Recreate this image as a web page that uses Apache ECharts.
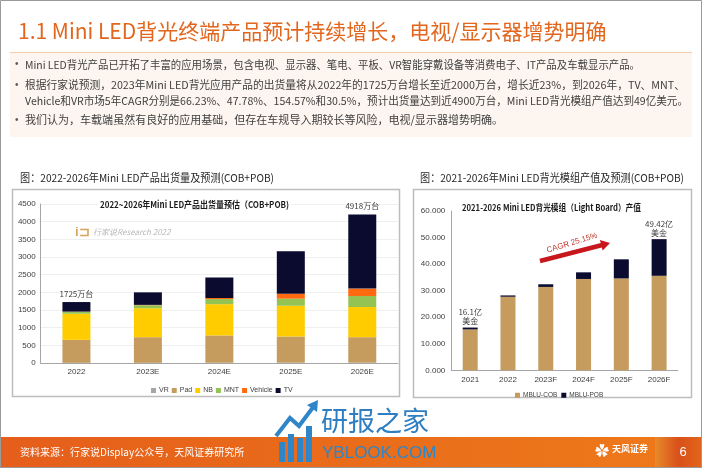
<!DOCTYPE html>
<html><head><meta charset="utf-8">
<script src="https://cdn.jsdelivr.net/npm/echarts@6/dist/echarts.min.js"></script>
<style>html,body{margin:0;padding:0;background:#fff}#c{width:702px;height:468px}</style>
</head><body><div id="c"></div>
<script>
// ---- Left chart data: Mini LED shipments (万台) ----
const shipCats = ['2022', '2023E', '2024E', '2025E', '2026E'];
const shipVR = [5, 5, 8, 10, 12];
const shipPad = [650, 725, 772, 740, 718];
const shipNB = [740, 820, 885, 870, 855];
const shipMNT = [55, 85, 145, 200, 310];
const shipVehicle = [5, 10, 30, 140, 210];
const shipTV = [270, 355, 580, 1200, 2100];
const shipTopLabels = ['1725万台', '', '', '', '4918万台'];
const shipYMin = 0, shipYMax = 4500, shipYStep = 500;

// ---- Right chart data: backlight module value (亿美金) ----
const valCats = ['2021', '2022', '2023F', '2024F', '2025F', '2026F'];
const valCOB = [15.4, 27.7, 31.4, 34.4, 34.6, 35.6];
const valPOB = [0.7, 0.5, 1.0, 2.5, 7.2, 13.8];
const valTopLabels = ['16.1亿\n美金', '', '', '', '', '49.42亿\n美金'];
const valYMin = 0, valYMax = 60, valYStep = 10;

const shipNames = ['VR', 'Pad', 'NB', 'MNT', 'Vehicle', 'TV'];
const shipColors = ['#A6A6A6', '#C59B5E', '#FFCC00', '#92C353', '#FF6A10', '#0B0B30'];
const shipData = [shipVR, shipPad, shipNB, shipMNT, shipVehicle, shipTV];

const CJK = '"Noto Sans CJK SC", "Liberation Sans", sans-serif';
const ARIAL = '"Liberation Sans", "Noto Sans CJK SC", sans-serif';

const mctx = document.createElement('canvas').getContext('2d');
function fitScale(text, font, target) {
  mctx.font = font;
  const w = mctx.measureText(text).width;
  return w > 0 ? target / w : 1;
}
function fitText(x, y, text, font, target, color, align, extra) {
  const sx = fitScale(text, font, target);
  return { type: 'text', x: x, y: y, scaleX: sx, style: Object.assign({ text: text, fill: color, font: font, align: align || 'left', verticalAlign: 'middle' }, extra || {}) };
}

function arrowPts(x1, y1, x2, y2, w, hw, hl) {
  const dx = x2 - x1, dy = y2 - y1, L = Math.hypot(dx, dy), ux = dx / L, uy = dy / L, nx = -uy, ny = ux;
  const bx = x2 - ux * hl, by = y2 - uy * hl;
  return [[x1 + nx * w / 2, y1 + ny * w / 2], [bx + nx * w / 2, by + ny * w / 2], [bx + nx * hw / 2, by + ny * hw / 2], [x2, y2],
    [bx - nx * hw / 2, by - ny * hw / 2], [bx - nx * w / 2, by - ny * w / 2], [x1 - nx * w / 2, y1 - ny * w / 2]];
}

const chart = echarts.init(document.getElementById('c'), null, { renderer: 'canvas' });

const series = [];
shipNames.forEach((n, i) => {
  const s = {
    name: n, type: 'bar', stack: 'ship', xAxisIndex: 0, yAxisIndex: 0,
    data: shipData[i], barWidth: 28, itemStyle: { color: shipColors[i] }
  };
  if (i === shipNames.length - 1) {
    s.label = {
      show: true, position: 'top', distance: 4, fontSize: 8, color: '#404040', fontFamily: CJK,
      formatter: p => shipTopLabels[p.dataIndex]
    };
  }
  series.push(s);
});
series.push({
  name: 'MBLU-COB', type: 'bar', stack: 'val', xAxisIndex: 1, yAxisIndex: 1,
  data: valCOB, barWidth: 15, itemStyle: { color: '#C59B5E' }
});
series.push({
  name: 'MBLU-POB', type: 'bar', stack: 'val', xAxisIndex: 1, yAxisIndex: 1,
  data: valPOB, barWidth: 15, itemStyle: { color: '#0B0B30' },
  label: {
    show: true, position: 'top', distance: 2, fontSize: 8, lineHeight: 9, color: '#404040', fontFamily: CJK,
    formatter: p => valTopLabels[p.dataIndex]
  }
});

const bulletLines = [
  { y: 64.5, bullet: true, w: 615, t: 'Mini LED背光产品已开拓了丰富的应用场景，包含电视、显示器、笔电、平板、VR智能穿戴设备等消费电子、IT产品及车载显示产品。' },
  { y: 85, bullet: true, w: 660, t: '根据行家说预测，2023年Mini LED背光应用产品的出货量将从2022年的1725万台增长至近2000万台，增长近23%，到2026年，TV、MNT、' },
  { y: 101, bullet: false, w: 663, t: 'Vehicle和VR市场5年CAGR分别是66.23%、47.78%、154.57%和30.5%，预计出货量达到近4900万台，Mini LED背光模组产值达到49亿美元。' },
  { y: 120, bullet: true, w: 478, t: '我们认为，车载端虽然有良好的应用基础，但存在车规导入期较长等风险，电视/显示器增势明确。' }
];

const graphics = [
  // slide border
  { type: 'rect', shape: { x: 0.5, y: 0.5, width: 701, height: 467 }, style: { fill: 'none', stroke: '#9A9A9A', lineWidth: 1 }, z: 100 },
  // title
  { type: 'text', x: 18, y: 31, style: { text: '1.1 Mini LED背光终端产品预计持续增长，电视/显示器增势明确', fill: '#E2661D', font: '21px ' + CJK, verticalAlign: 'middle' } },
  // bullet box
  { type: 'rect', shape: { x: 10, y: 52, width: 682, height: 85 }, style: { fill: '#FDF6F0' } },
  { type: 'line', shape: { x1: 10, y1: 52.5, x2: 692, y2: 52.5 }, style: { stroke: '#F2CDB0', lineWidth: 1 } },
  // subtitles
  fitText(20, 178, '图：2022-2026年Mini LED产品出货量及预测(COB+POB)', '11px ' + CJK, 254, '#262626'),
  fitText(420, 178, '图：2021-2026年Mini LED背光模组产值及预测(COB+POB)', '11px ' + CJK, 264, '#262626'),
  // chart frames
  { type: 'rect', shape: { x: 12.5, y: 189.5, width: 387, height: 207 }, style: { fill: 'none', stroke: '#BDBDBD', lineWidth: 1.5 } },
  { type: 'rect', shape: { x: 413.5, y: 189.5, width: 278, height: 208 }, style: { fill: 'none', stroke: '#BDBDBD', lineWidth: 1.5 } },
  // inner chart titles
  Object.assign(fitText(194.5, 205, '2022~2026年Mini LED产品出货量预估（COB+POB)', 'bold 9px ' + CJK, 189, '#1A1A1A', 'center',
    { backgroundColor: '#FFFFFF', padding: [1, 2] }), { z: 10 }),
  fitText(551.5, 208, '2021-2026 Mini LED背光模组（Light Board）产值', 'bold 9px ' + CJK, 179, '#1A1A1A', 'center'),
  // research watermark in left chart
  { type: 'text', x: 75, y: 232, style: { text: 'i⊐', fill: '#D8A55E', font: 'bold 13px ' + ARIAL, verticalAlign: 'middle' } },
  { type: 'text', x: 93, y: 232, style: { text: '行家说Research 2022', fill: '#B8B8B8', font: 'italic 8px ' + CJK, verticalAlign: 'middle' } },
  // CAGR arrow
  { type: 'polygon', shape: { points: arrowPts(540, 261, 610, 243, 4.5, 11, 9) }, style: { fill: '#C8161D' }, z: 10 },
  { type: 'text', x: 572, y: 243, rotation: 17 * Math.PI / 180, style: { text: 'CAGR 25.15%', fill: '#C0392B', font: '8px ' + ARIAL, align: 'center', verticalAlign: 'middle' }, z: 10 },
  // footer
  { type: 'rect', shape: { x: 0, y: 437, width: 702, height: 31 }, style: { fill: new echarts.graphic.LinearGradient(0, 0, 1, 0, [{ offset: 0, color: '#E55E1B' }, { offset: 1, color: '#EE7A1A' }]) } },
  { type: 'rect', shape: { x: 655, y: 437, width: 47, height: 31 }, style: { fill: new echarts.graphic.LinearGradient(0, 0, 1, 0, [{ offset: 0, color: '#E88A2A' }, { offset: 0.5, color: '#D9501A' }, { offset: 1, color: '#E2661C' }]) } },
  { type: 'text', x: 20, y: 452, style: { text: '资料来源：行家说Display公众号，天风证券研究所', fill: '#FFFFFF', font: '10px ' + CJK, verticalAlign: 'middle' } },
  { type: 'text', x: 595, y: 451, style: { text: '✿', fill: '#FFFFFF', font: '14px ' + CJK, verticalAlign: 'middle' } },
  { type: 'text', x: 612, y: 449, style: { text: '天风证券', fill: '#FFFFFF', font: 'bold 9px ' + CJK, verticalAlign: 'middle' } },
  { type: 'text', x: 683, y: 452, style: { text: '6', fill: '#FFFFFF', font: '13px ' + ARIAL, align: 'center', verticalAlign: 'middle' } },
  // site watermark
  { type: 'rect', shape: { x: 279, y: 442, width: 6, height: 20 }, style: { fill: '#2E86C8' }, z: 20 },
  { type: 'rect', shape: { x: 288, y: 434, width: 6, height: 28 }, style: { fill: '#2E86C8' }, z: 20 },
  { type: 'rect', shape: { x: 297, y: 438, width: 6, height: 24 }, style: { fill: '#2E86C8' }, z: 20 },
  { type: 'rect', shape: { x: 306, y: 426, width: 6, height: 36 }, style: { fill: '#2E86C8' }, z: 20 },
  { type: 'polyline', shape: { points: [[276, 436], [290, 418], [299, 426], [314, 406]] }, style: { stroke: '#2E86C8', lineWidth: 4, fill: 'none' }, z: 20 },
  { type: 'polygon', shape: { points: [[307, 405], [318, 400], [317, 412]] }, style: { fill: '#2E86C8' }, z: 20 },
  { type: 'text', x: 321, y: 421, style: { text: '研报之家', fill: '#2E7FC2', font: '27px ' + CJK, verticalAlign: 'middle' }, z: 20 },
  { type: 'text', x: 322, y: 453, style: { text: 'YBLOOK.COM', fill: '#2E86C8', font: '17px ' + ARIAL, verticalAlign: 'middle' }, z: 20 }
];
bulletLines.forEach(l => {
  if (l.bullet) graphics.push({ type: 'text', x: 15, y: l.y, style: { text: '•', fill: '#595959', font: '10px ' + ARIAL, verticalAlign: 'middle' } });
  graphics.push(fitText(25, l.y, l.t, '11px ' + CJK, l.w, '#404040'));
});

const option = {
  animation: false,
  backgroundColor: '#FFFFFF',
  textStyle: { fontFamily: ARIAL },
  grid: [
    { left: 40.7, right: 304, top: 204, bottom: 105 },
    { left: 451.3, right: 24, top: 211, bottom: 97.7 }
  ],
  xAxis: [
    {
      gridIndex: 0, type: 'category', data: shipCats,
      axisLine: { lineStyle: { color: '#A6A6A6' } }, axisTick: { show: false },
      axisLabel: { color: '#404040', fontSize: 8, margin: 5 }
    },
    {
      gridIndex: 1, type: 'category', data: valCats,
      axisLine: { lineStyle: { color: '#A6A6A6' } }, axisTick: { show: false },
      axisLabel: { color: '#404040', fontSize: 8, margin: 5 }
    }
  ],
  yAxis: [
    {
      gridIndex: 0, type: 'value', min: shipYMin, max: shipYMax, interval: shipYStep,
      axisLine: { show: true, lineStyle: { color: '#A6A6A6' } }, axisTick: { show: false },
      axisLabel: { color: '#404040', fontSize: 8, margin: 5, formatter: v => String(v) },
      splitLine: { lineStyle: { color: '#EFEFEF' } }
    },
    {
      gridIndex: 1, type: 'value', min: valYMin, max: valYMax, interval: valYStep,
      axisLine: { show: true, lineStyle: { color: '#A6A6A6' } }, axisTick: { show: false },
      axisLabel: { color: '#404040', fontSize: 8, margin: 6, formatter: v => v.toFixed(3) },
      splitLine: { show: false }
    }
  ],
  legend: [
    {
      data: shipNames, left: 146, top: 382, itemWidth: 5, itemHeight: 5, itemGap: 3,
      textStyle: { fontSize: 7, color: '#404040', padding: [0, 0, 0, -2] }, icon: 'rect'
    },
    {
      data: ['MBLU-COB', 'MBLU-POB'], left: 510, top: 387, itemWidth: 5, itemHeight: 5, itemGap: 4,
      textStyle: { fontSize: 6.5, color: '#404040', padding: [0, 0, 0, -2] }, icon: 'rect'
    }
  ],
  graphic: graphics,
  series: series
};
chart.setOption(option);
</script>
</body></html>
